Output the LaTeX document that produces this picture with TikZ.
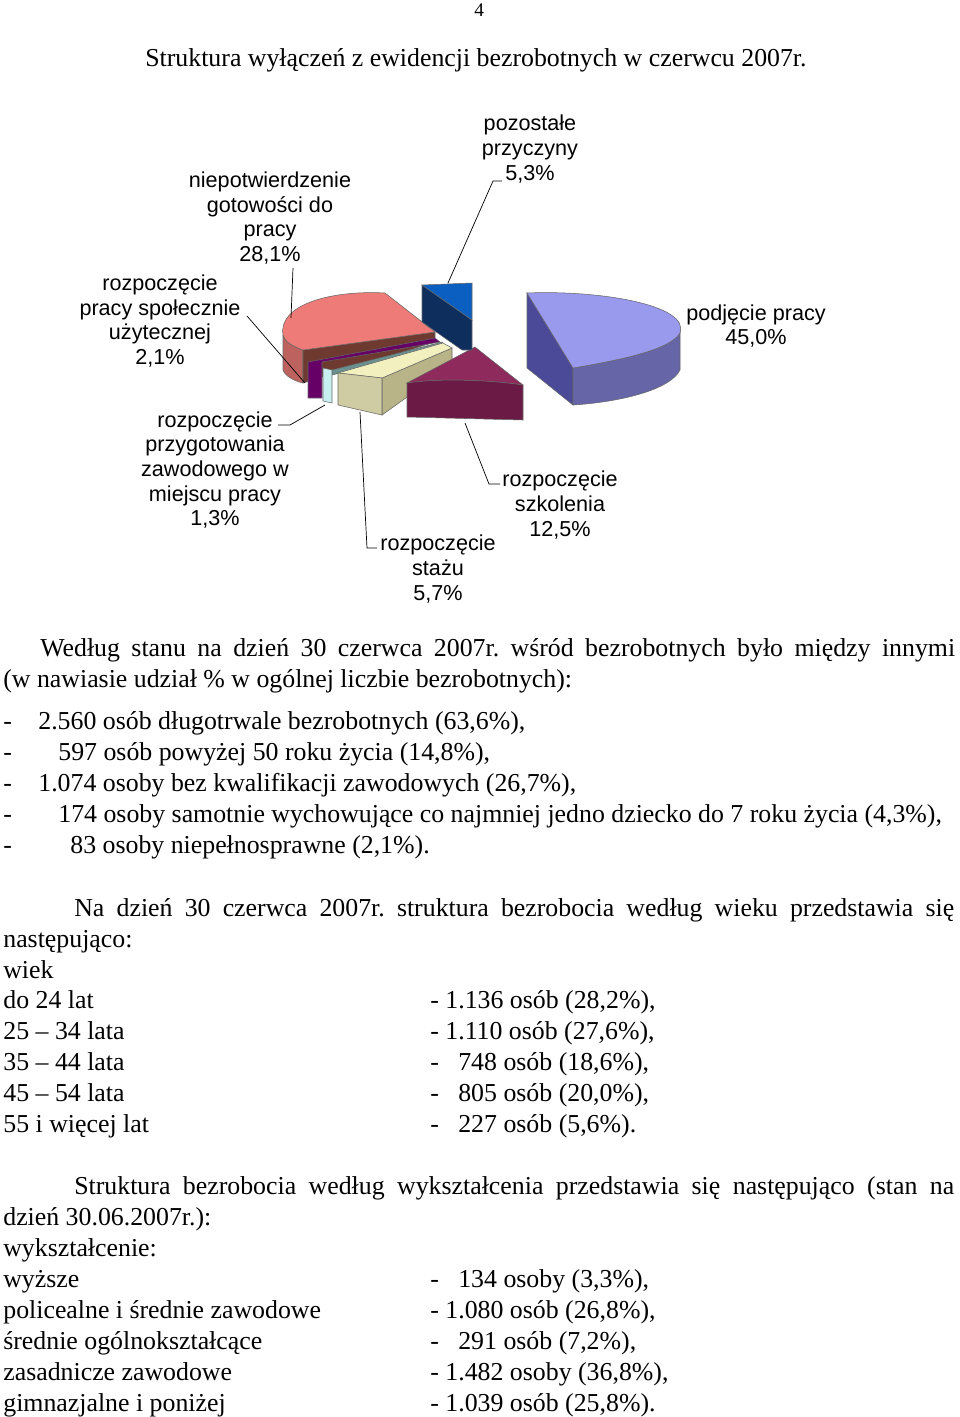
\documentclass[tikz,border=0pt]{standalone}
\usepackage{fontspec}
\setmainfont{Liberation Serif}
\setsansfont{Liberation Sans}
\usetikzlibrary{positioning}
\frenchspacing
\definecolor{podj}{HTML}{9999EE}
\definecolor{podjside}{HTML}{4A4A99}
\definecolor{szk}{HTML}{8E2A5C}
\definecolor{szkside}{HTML}{6A1A44}
\definecolor{staz}{HTML}{F3F0C0}
\definecolor{stazside}{HTML}{B8B488}
\definecolor{przyg}{HTML}{C8F0F0}
\definecolor{przygside}{HTML}{6A9090}
\definecolor{spol}{HTML}{660066}
\definecolor{niep}{HTML}{EE7B77}
\definecolor{niepside}{HTML}{6E3A30}
\definecolor{poz}{HTML}{0A5FC0}
\definecolor{pozside}{HTML}{0E2E5E}

\begin{document}
\begin{tikzpicture}[
  x=0.02cm, y=-0.02cm,
  txt/.style={anchor=base west, inner sep=0pt, font=\fontsize{14.7}{17}\selectfont},
  lbl/.style={font=\sffamily\fontsize{12.3}{14}\selectfont, align=center, inner sep=1pt},
  lead/.style={draw=black, thin},
  face/.style={draw=black!60, line width=0.3pt}
]
  \useasboundingbox (0,0) rectangle (960,1417);
  \node[txt] (page) at (474,16) {\fontsize{11}{13}\selectfont 4};
  \node[txt] (title) at (145,66) {Struktura wyłączeń z ewidencji bezrobotnych w czerwcu 2007r.};

  % pie: rozpoczecie pracy i niepotwierdzenie
  \fill[face, fill=niep!80!black] (283,335) -- (283,370) .. controls (285,376) and (294,381) .. (303,383) -- (303,350) .. controls (292,346) and (284,341) .. (283,335);
  \fill[face, fill=niepside] (303,350) -- (435,332) -- (435,342) -- (303,383) -- cycle;
  \fill[face, fill=niep] (283,335) .. controls (278,305) and (330,290) .. (385,293) -- (435,332) -- (303,350) .. controls (292,346) and (284,341) .. cycle;
  \fill[face, fill=spol] (308,362) -- (435,338) -- (440,342) -- (322,362) -- (322,398) -- (308,398) -- cycle;
  \fill[face, fill=przygside] (332,370) -- (442,342) -- (445,346) -- (332,375) -- cycle;
  \fill[face, fill=przyg] (323,368) -- (332,370) -- (332,403) -- (323,401) -- cycle;
  % stazu
  \fill[face, fill=stazside] (382,378) -- (452,348) -- (452,365) -- (382,415) -- cycle;
  \fill[face, fill=staz] (338,373) -- (382,378) -- (452,348) -- (443,343) -- cycle;
  \fill[face, fill=staz!85!black] (338,373) -- (382,378) -- (382,415) -- (338,405) -- cycle;
  % szkolenia
  \fill[face, fill=szk] (475,347) -- (523,385) .. controls (490,380) and (440,378) .. (407,383) -- cycle;
  \fill[face, fill=szkside] (407,383) .. controls (440,378) and (490,380) .. (523,385) -- (523,420) -- (407,417) -- cycle;
  % pozostale
  \fill[face, fill=pozside] (422,285) -- (472,320) -- (472,350) -- (462,350) -- (422,322) -- cycle;
  \fill[face, fill=poz] (422,285) -- (472,283) -- (472,320) -- cycle;
  % podjecie pracy
  \fill[face, fill=podjside] (527,293) -- (573,368) -- (573,405) -- (527,368) -- cycle;
  \fill[face, fill=podjside!85!white] (573,368) .. controls (620,360) and (670,350) .. (680,333) -- (680,370) .. controls (670,390) and (620,402) .. (573,405) -- cycle;
  \fill[face, fill=podj] (527,293) .. controls (600,290) and (690,305) .. (680,333) .. controls (670,350) and (620,360) .. (573,368) -- cycle;

  % labels
  \node[lbl] (lpoz) at (530,149) {pozostałe\\przyczyny\\5,3\%};
  \node[lbl] (lniep) at (270,218) {niepotwierdzenie\\gotowości do\\pracy\\28,1\%};
  \node[lbl] (lspol) at (160,321) {rozpoczęcie\\pracy społecznie\\użytecznej\\2,1\%};
  \node[lbl] (lprzyg) at (215,470) {rozpoczęcie\\przygotowania\\zawodowego w\\miejscu pracy\\1,3\%};
  \node[lbl] (lstaz) at (438,569) {rozpoczęcie\\stażu\\5,7\%};
  \node[lbl] (lszk) at (560,505) {rozpoczęcie\\szkolenia\\12,5\%};
  \node[lbl] (lpodj) at (756,326) {podjęcie pracy\\45,0\%};
  \coordinate (cpoz) at (448,283);
  \coordinate (cniep) at (291,318);
  \coordinate (cspol) at (305,383);
  \coordinate (cprzyg) at (325,405);
  \coordinate (cstaz) at (360,412);
  \coordinate (cszk) at (465,423);
  \draw[lead] (502,181) -- (493,181) -- (cpoz);
  \draw[lead] (293,268) -- (cniep);
  \draw[lead] (247,316) -- (cspol);
  \draw[lead] (278,425) -- (290,425) -- (cprzyg);
  \draw[lead] (377,548) -- (367,548) -- (cstaz);
  \draw[lead] (500,484) -- (489,484) -- (cszk);

  % text
  \node[txt] (p1a) at (40,656) {\makebox[18.3cm][s]{Według stanu na dzień 30 czerwca 2007r. wśród bezrobotnych było między innymi}};
  \node[txt] (p1b) at (3,687) {(w nawiasie udział \% w ogólnej liczbie bezrobotnych):};
  \foreach \yy/\xx/\itm in {729/38/{2.560 osób długotrwale bezrobotnych (63,6\%),},
      760/58/{597 osób powyżej 50 roku życia (14,8\%),},
      791/38/{1.074 osoby bez kwalifikacji zawodowych (26,7\%),},
      822/58/{174 osoby samotnie wychowujące co najmniej jedno dziecko do 7 roku życia (4,3\%),},
      853/70/{83 osoby niepełnosprawne (2,1\%).}}{
    \node[txt] at (3,\yy) {-};
    \node[txt] at (\xx,\yy) {\itm};
  }
  \node[txt] (p2) at (74,916) {\makebox[17.6cm][s]{Na dzień 30 czerwca 2007r. struktura bezrobocia według wieku przedstawia się}};
  \node[txt] (p2b) at (3,947) {następująco:};
  \node[txt] (p2c) at (3,978) {wiek};
  \foreach \yy/\aa/\bb in {1008/{do 24 lat}/{- 1.136 osób (28,2\%),},
      1039/{25 – 34 lata}/{- 1.110 osób (27,6\%),},
      1070/{35 – 44 lata}/{-\ \ \ 748 osób (18,6\%),},
      1101/{45 – 54 lata}/{-\ \ \ 805 osób (20,0\%),},
      1132/{55 i więcej lat}/{-\ \ \ 227 osób (5,6\%).}}{
    \node[txt] at (3,\yy) {\aa};
    \node[txt] at (430,\yy) {\bb};
  }
  \node[txt] (p3) at (74,1194) {\makebox[17.6cm][s]{Struktura bezrobocia według wykształcenia przedstawia się następująco (stan na}};
  \node[txt] (p3b) at (3,1225) {dzień 30.06.2007r.):};
  \node[txt] (p3c) at (3,1256) {wykształcenie:};
  \foreach \yy/\aa/\bb in {1287/{wyższe}/{-\ \ \ 134 osoby (3,3\%),},
      1318/{policealne i średnie zawodowe}/{- 1.080 osób (26,8\%),},
      1349/{średnie ogólnokształcące}/{-\ \ \ 291 osób (7,2\%),},
      1380/{zasadnicze zawodowe}/{- 1.482 osoby (36,8\%),},
      1411/{gimnazjalne i poniżej}/{- 1.039 osób (25,8\%).}}{
    \node[txt] at (3,\yy) {\aa};
    \node[txt] at (430,\yy) {\bb};
  }
\end{tikzpicture}
\end{document}
